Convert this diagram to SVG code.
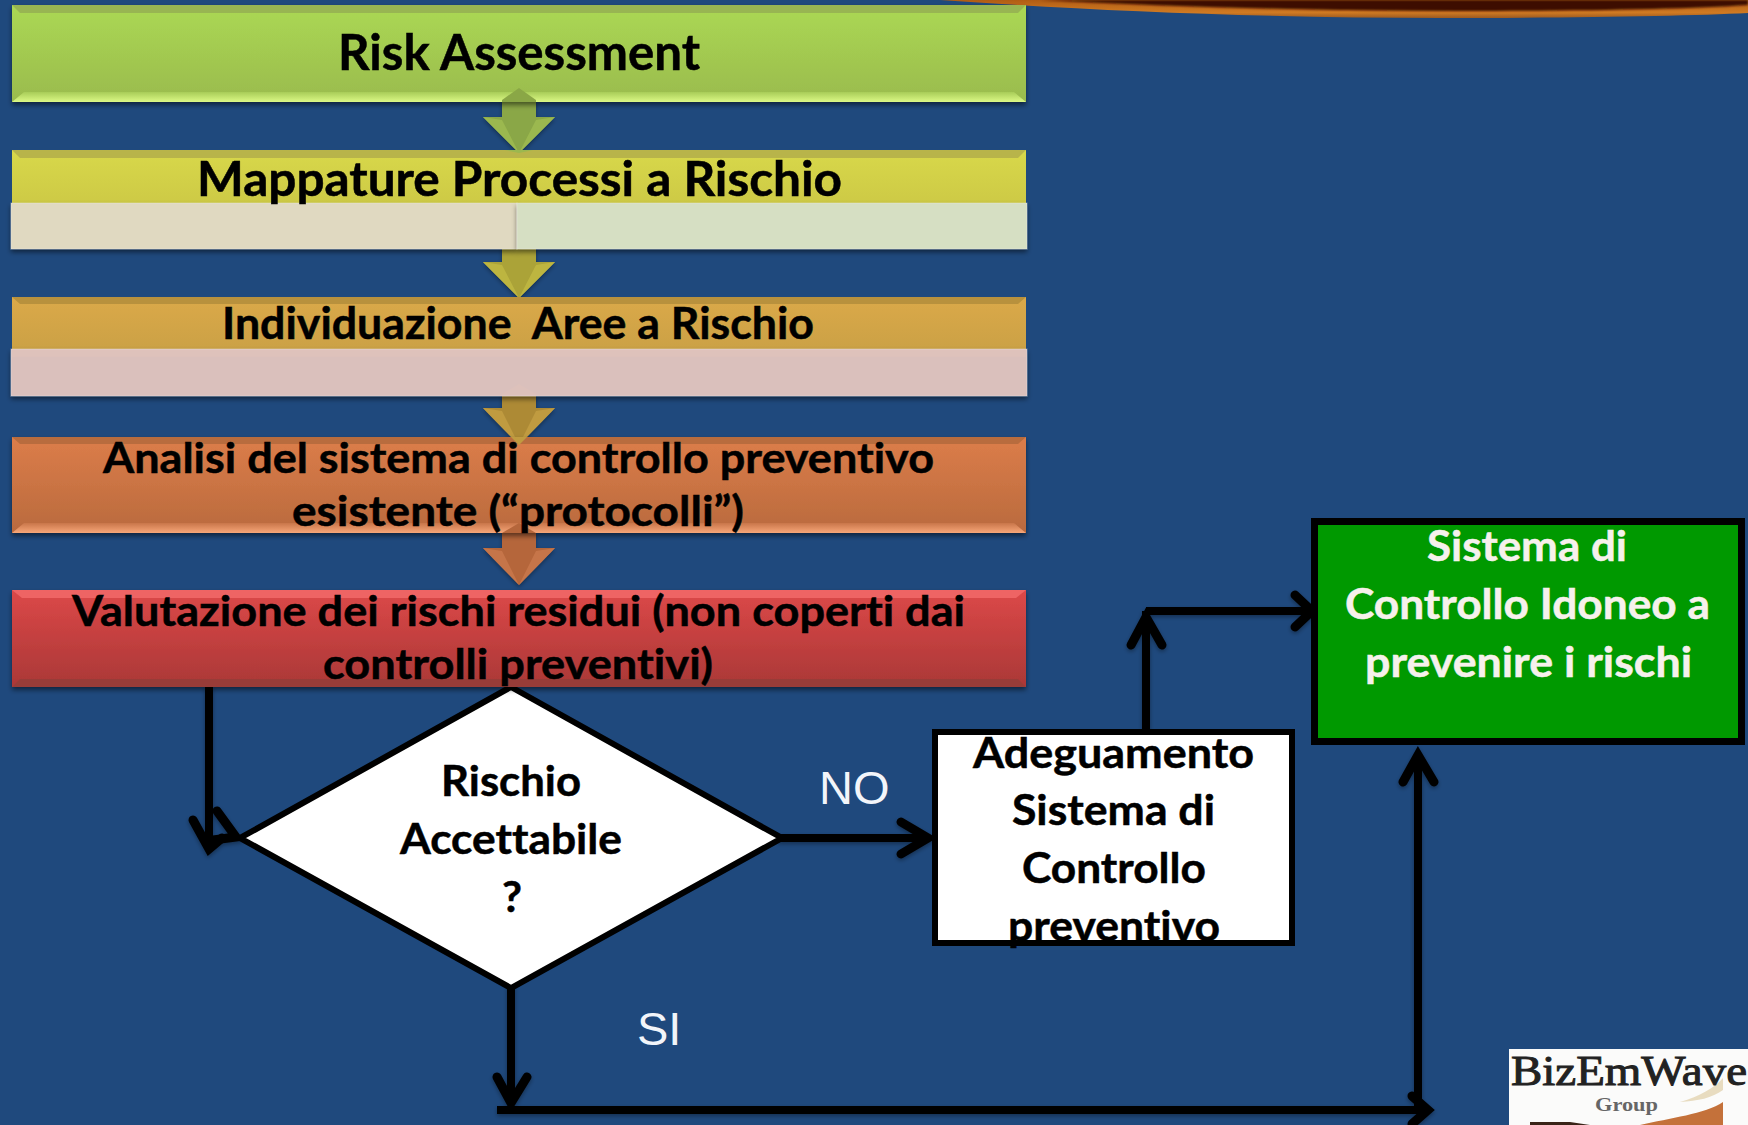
<svg xmlns="http://www.w3.org/2000/svg" width="1748" height="1125" viewBox="0 0 1748 1125">
<style>
.t{font-family:Lato,"Liberation Sans",sans-serif;font-weight:700;fill:#000;stroke:#000;stroke-width:.5;text-anchor:start;white-space:pre;font-variant-ligatures:none}
.w{fill:#f6f1ec;stroke:#f6f1ec}
.h{font-family:"Liberation Sans",Arial,sans-serif;font-size:47px;fill:#f2f5fa}
.ln{fill:none;stroke:#000;stroke-width:8;stroke-linejoin:miter}
.hd{fill:none;stroke:#000;stroke-width:9;stroke-linecap:round;stroke-linejoin:miter}
.pale{stroke:#eee;stroke-opacity:.35;stroke-width:1}
</style>
<defs>
<filter id="sh" x="-5%" y="-20%" width="110%" height="140%"><feDropShadow dx="0" dy="3" stdDeviation="2.5" flood-color="#000" flood-opacity=".5"/></filter>
<filter id="sh2" x="-10%" y="-10%" width="120%" height="120%"><feDropShadow dx="0" dy="2" stdDeviation="2" flood-color="#000" flood-opacity=".35"/></filter>
<filter id="soft" x="-5%" y="-30%" width="110%" height="160%"><feGaussianBlur stdDeviation=".8"/></filter>
<linearGradient id="g1" x1="0" y1="0" x2="0" y2="1"><stop offset="0" stop-color="#abd853"/><stop offset="1" stop-color="#9abb4e"/></linearGradient>
<linearGradient id="b1" x1="0" y1="0" x2="0" y2="1"><stop offset="0" stop-color="#a8cc58"/><stop offset="1" stop-color="#dcf986"/></linearGradient>
<linearGradient id="g2" x1="0" y1="0" x2="0" y2="1"><stop offset="0" stop-color="#d8d84a"/><stop offset="1" stop-color="#ccc845"/></linearGradient>
<linearGradient id="g3" x1="0" y1="0" x2="0" y2="1"><stop offset="0" stop-color="#dba949"/><stop offset="1" stop-color="#c9a045"/></linearGradient>
<linearGradient id="g4" x1="0" y1="0" x2="0" y2="1"><stop offset="0" stop-color="#dc7d49"/><stop offset="1" stop-color="#b96a3e"/></linearGradient>
<linearGradient id="b4" x1="0" y1="0" x2="0" y2="1"><stop offset="0" stop-color="#c9764a"/><stop offset="1" stop-color="#f7a779"/></linearGradient>
<linearGradient id="g5" x1="0" y1="0" x2="0" y2="1"><stop offset="0" stop-color="#dc4848"/><stop offset="1" stop-color="#aa3837"/></linearGradient>
<linearGradient id="sw" gradientUnits="userSpaceOnUse" x1="0" y1="0" x2="0" y2="18"><stop offset="0" stop-color="#b05c14"/><stop offset=".7" stop-color="#d07a22"/><stop offset="1" stop-color="#9c5a20"/></linearGradient>
</defs>

<rect id="background" width="1748" height="1125" fill="#1f497d"/>
<g id="swoosh">
<path d="M940 0C1080 10 1260 18 1440 18C1570 18 1690 16 1748 13V0Z" fill="url(#sw)"/>
<path d="M1040 0C1180 7 1320 11 1460 11C1580 11 1690 9 1748 5V0Z" fill="#3c0e00" filter="url(#soft)"/>
</g>

<g id="logo">
<rect x="1509" y="1049" width="239" height="76" fill="#fbfbfa"/>
<path d="M1680 1102C1700 1096 1714 1088 1723 1078V1090C1712 1098 1698 1101 1680 1102Z" fill="#e8dcc0"/>
<path d="M1640 1125C1670 1118 1705 1114 1723 1102V1125Z" fill="#c4713a"/>
<path d="M1530 1125V1122L1570 1122L1590 1125Z" fill="#3a2418"/>
<text x="1511" y="1085" font-family="'Liberation Serif',serif" font-weight="400" font-size="43" stroke="#222" stroke-width="1" textLength="236" lengthAdjust="spacingAndGlyphs" fill="#222">BizEmWave</text>
<text x="1595" y="1111" font-family="'Liberation Serif',serif" font-weight="700" font-size="18" textLength="63" lengthAdjust="spacingAndGlyphs" fill="#666">Group</text>
</g>

<g id="connectors">
<g id="block-arrows" filter="url(#sh2)">
<g id="arrow-1"><path d="M519 88L536 100V117H555L519 153L483 117H502V100Z" fill="#8aa746"/><path d="M483 117L502 120L519 153ZM555 117L536 120L519 153Z" fill="#9bb84f"/></g>
<g id="arrow-2"><path d="M502 245H536V262H555L519 298L483 262H502Z" fill="#aba338"/><path d="M483 262L502 265L519 298ZM555 262L536 265L519 298Z" fill="#bdb541"/></g>
<g id="arrow-3"><path d="M519 384L536 394V408H555L519 445L483 408H502V394Z" fill="#ad8a36"/><path d="M483 408L502 411L519 445ZM555 408L536 411L519 445Z" fill="#c09b40"/></g>
<g id="arrow-4"><path d="M519 523L536 533V548H555L519 585L483 548H502V533Z" fill="#b5663b"/><path d="M483 548L502 551L519 585ZM555 548L536 551L519 585Z" fill="#c67548"/></g>
</g>
<g id="flow-lines" filter="url(#sh2)">
<path class="ln" d="M209 687V846"/>
<path class="hd" d="M193 820L209 849L222 838"/>
<path class="hd" stroke-width="10" d="M217 811L236 837L213 840"/>
<path class="ln" d="M511 985V1105"/>
<path class="hd" d="M497 1077L511 1103L527 1077"/>
<path class="ln" d="M497 1110H1427"/>
<path class="hd" d="M1412 1096L1428 1110L1412 1124"/>
<path class="ln" d="M1418 1110V757"/>
<path class="hd" d="M1403 782L1418 755L1434 782"/>
<path class="ln" d="M778 838H926"/>
<path class="hd" d="M901 822L928 838L901 854"/>
<path class="ln" d="M1146 734V611"/>
<path class="hd" d="M1131 645L1146 617L1162 645"/>
<path class="ln" d="M1146 611H1310"/>
<path class="hd" d="M1295 595L1312 611L1295 627"/>
</g>
</g>

<g id="node-risk-assessment">
<rect x="12" y="5" width="1014" height="97" fill="url(#g1)" filter="url(#sh)"/>
<path d="M12 5H1026L1018 13H20Z" fill="#98b552"/>
<path d="M12 102H1026L1014 92H24Z" fill="url(#b1)"/>
<path d="M519 88L536 100V102H502V100Z" fill="#8aa746"/>
<text class="t" x="338" y="70" font-size="50" textLength="362" lengthAdjust="spacingAndGlyphs">Risk Assessment</text>
</g>

<g id="node-mappature">
<rect x="12" y="150" width="1014" height="60" fill="url(#g2)"/>
<path d="M12 150H1026L1018 158H20Z" fill="#b8b44a"/>
<rect x="11" y="203" width="506" height="46" fill="#e0d9c1" class="pale" filter="url(#sh)"/>
<rect x="517" y="203" width="510" height="46" fill="#d6dfc3" class="pale" filter="url(#sh)"/>
<path d="M505 150H533L519 153Z" fill="#9bb84f"/>
<text class="t" x="197" y="196" font-size="47" textLength="645" lengthAdjust="spacingAndGlyphs">Mappature Processi a Rischio</text>
</g>

<g id="node-individuazione">
<rect x="12" y="297" width="1014" height="60" fill="url(#g3)"/>
<path d="M12 297H1026L1018 304H20Z" fill="#b8913d"/>
<rect x="11" y="349" width="1016" height="47" fill="#e0c4c0" fill-opacity=".96" class="pale" filter="url(#sh)"/>
<text class="t" x="222" y="339" font-size="44" textLength="592" lengthAdjust="spacingAndGlyphs">Individuazione  Aree a Rischio</text>
</g>

<g id="node-analisi">
<rect x="12" y="437" width="1014" height="96" fill="url(#g4)" filter="url(#sh)"/>
<path d="M12 437H1026L1018 444H20Z" fill="#b86c3e"/>
<path d="M12 533H1026L1014 523H24Z" fill="url(#b4)"/>
<path d="M519 445L511 437H527Z" fill="#c09b40"/>
<path d="M519 523L536 533H502Z" fill="#b5663b"/>
<text class="t" x="103" y="473" font-size="42" textLength="831" lengthAdjust="spacingAndGlyphs">Analisi del sistema di controllo preventivo</text>
<text class="t" x="292" y="526" font-size="42" textLength="452" lengthAdjust="spacingAndGlyphs">esistente (“protocolli”)</text>
</g>

<g id="node-rischio-accettabile">
<path d="M511 687L782 838L511 988L240 838Z" fill="#fff" stroke="#000" stroke-width="6" stroke-linejoin="miter"/>
<text class="t" x="441" y="796" font-size="42" textLength="140" lengthAdjust="spacingAndGlyphs">Rischio</text>
<text class="t" x="400" y="854" font-size="42" textLength="222" lengthAdjust="spacingAndGlyphs">Accettabile</text>
<text class="t" x="502" y="912" font-size="42" textLength="20" lengthAdjust="spacingAndGlyphs">?</text>
</g>

<g id="node-valutazione">
<rect x="12" y="590" width="1014" height="97" fill="url(#g5)" filter="url(#sh)"/>
<path d="M12 590H1026L1016 598H22Z" fill="#ee6464"/>
<path d="M12 687H1026L1018 679H20Z" fill="#983c38"/>
<text class="t" x="72" y="626" font-size="42" textLength="893" lengthAdjust="spacingAndGlyphs">Valutazione dei rischi residui (non coperti dai</text>
<text class="t" x="323" y="679" font-size="42" textLength="390" lengthAdjust="spacingAndGlyphs">controlli preventivi)</text>
</g>

<g id="node-adeguamento">
<rect x="935" y="732" width="357" height="211" fill="#fff" stroke="#000" stroke-width="6"/>
<text class="t" x="973" y="768" font-size="42" textLength="281" lengthAdjust="spacingAndGlyphs">Adeguamento</text>
<text class="t" x="1012" y="825" font-size="42" textLength="203" lengthAdjust="spacingAndGlyphs">Sistema di</text>
<text class="t" x="1022" y="883" font-size="42" textLength="184" lengthAdjust="spacingAndGlyphs">Controllo</text>
<text class="t" x="1008" y="941" font-size="42" textLength="212" lengthAdjust="spacingAndGlyphs">preventivo</text>
</g>

<g id="node-sistema-idoneo">
<rect x="1314.500" y="521.500" width="427" height="220" fill="#009900" stroke="#000" stroke-width="7"/>
<text class="t w" x="1427" y="561" font-size="42" textLength="200" lengthAdjust="spacingAndGlyphs">Sistema di</text>
<text class="t w" x="1345" y="619" font-size="42" textLength="365" lengthAdjust="spacingAndGlyphs">Controllo Idoneo a</text>
<text class="t w" x="1365" y="677" font-size="42" textLength="327" lengthAdjust="spacingAndGlyphs">prevenire i rischi</text>
</g>

<text id="label-no" class="h" x="819" y="804">NO</text>
<text id="label-si" class="h" x="637" y="1045">SI</text>
</svg>
